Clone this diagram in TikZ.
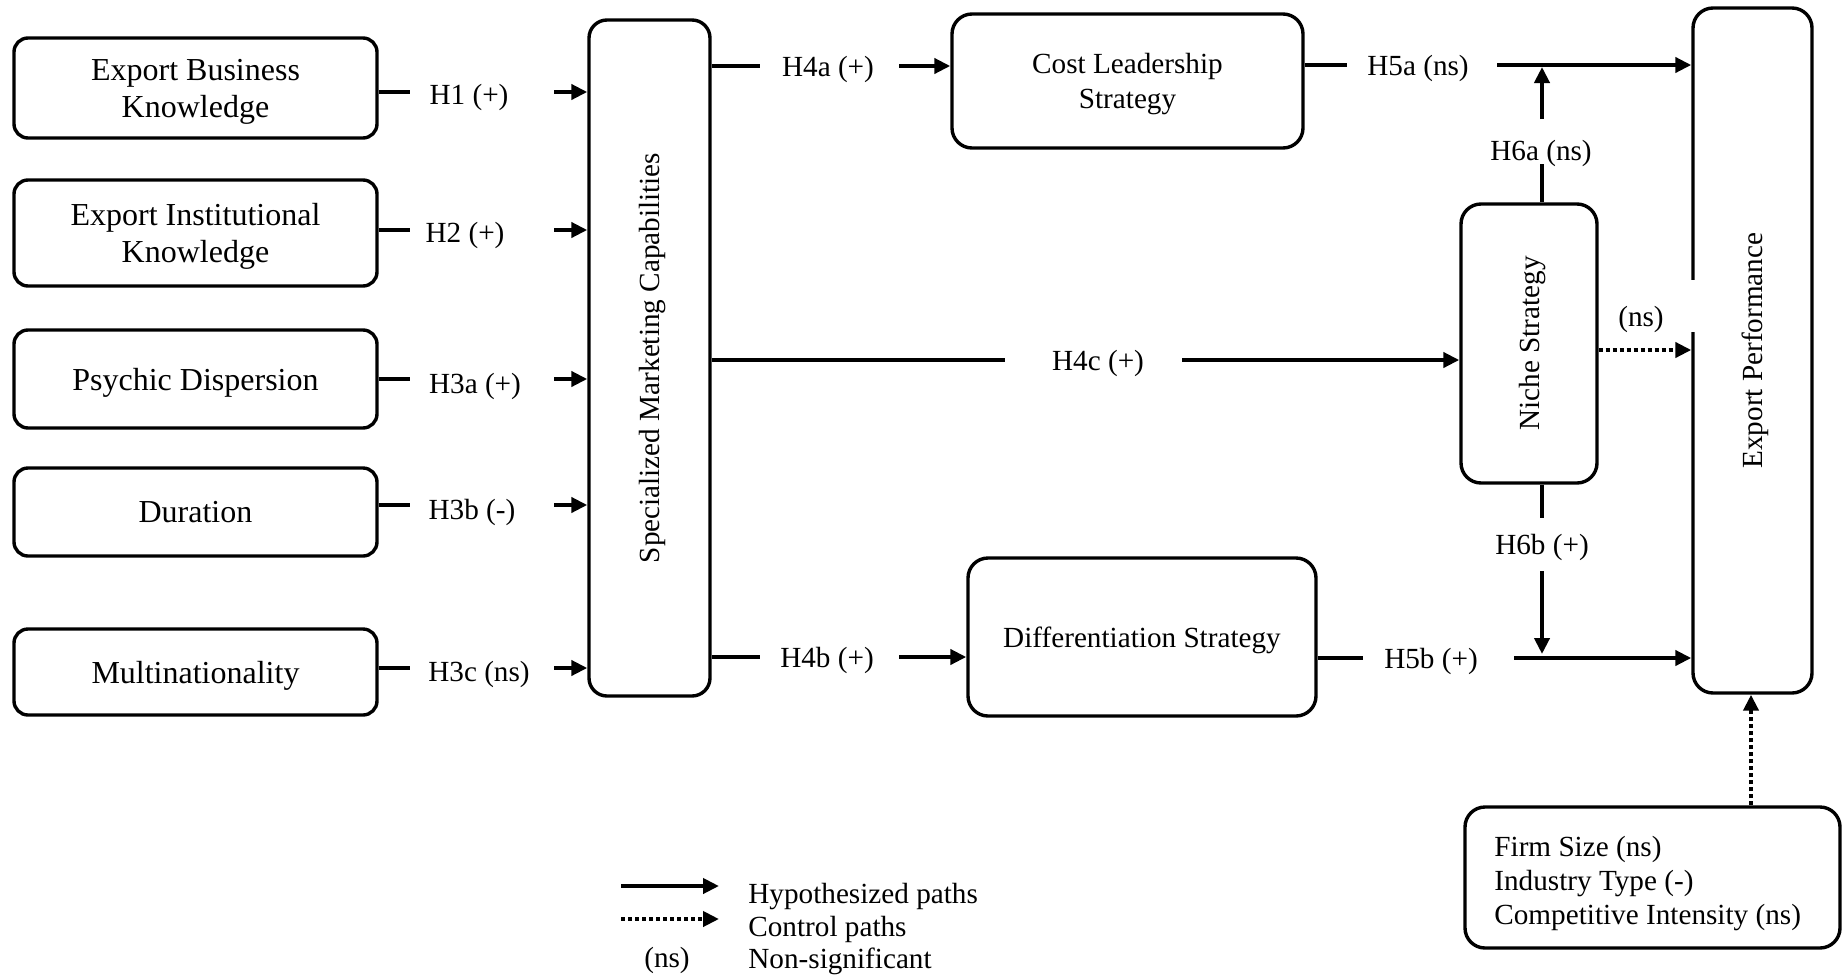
\documentclass[tikz,border=0pt]{standalone}
\usepackage{fontspec}
\setmainfont{Liberation Serif}
\usetikzlibrary{arrows.meta}
\begin{document}
\begin{tikzpicture}[x=0.5pt,y=-0.5pt,
  box/.style={draw,line width=1.7pt,rounded corners=10pt,inner sep=0pt,align=center,
    text depth=-1pt,font=\fontsize{14.6}{17.5}\selectfont},
  inbox/.style={box,rounded corners=7pt,minimum width=181.5pt,
    font=\fontsize{16}{18.5}\selectfont},
  lbl/.style={font=\fontsize{14.6}{17}\selectfont,inner sep=1pt,text depth=-0.5pt},
  vtext/.style={lbl,rotate=90},
  link/.style={line width=2pt},
  arr/.style={link,-{Triangle[length=8pt,width=7.5pt]}},
  ctrl/.style={arr,dash pattern=on 2pt off 1.5pt},
]
\useasboundingbox (0,0) rectangle (1847,975);

% antecedent boxes
\node[inbox,minimum height=50pt,text depth=-3pt] (ebk) at (195.5,88) {Export Business\\Knowledge};
\node[inbox,minimum height=53pt] (eik) at (195.5,233) {Export Institutional\\Knowledge};
\node[inbox,minimum height=49pt] (psy) at (195.5,379) {Psychic Dispersion};
\node[inbox,minimum height=44pt] (dur) at (195.5,512) {Duration};
\node[inbox,minimum height=43pt] (mul) at (195.5,672) {Multinationality};

% mediating capability
\node[box,rounded corners=9pt,minimum width=60.5pt,minimum height=338pt] (smc) at (649.5,358) {};
\node[vtext] at (smc.center) {Specialized Marketing Capabilities};

% strategies
\node[box,minimum width=175.5pt,minimum height=67pt] (cls) at (1127.5,81) {Cost Leadership\\Strategy};
\node[box,minimum width=174pt,minimum height=79pt] (dif) at (1142,637) {Differentiation Strategy};
\node[box,minimum width=68pt,minimum height=139.5pt] (nic) at (1529,343.5) {};
\node[vtext] at (nic.center) {Niche Strategy};

% outcome
\node[box,minimum width=59.5pt,minimum height=342.5pt] (ep) at (1752.5,350.5) {};
\node[vtext] at (ep.center) {Export Performance};

% controls
\node[box,minimum width=187.5pt,minimum height=70.5pt] (ctl) at (1652.5,877.5) {};
\node[lbl,anchor=west,align=left,font=\fontsize{14.6}{17}\selectfont] (ctltxt) at (1492,880)
  {Firm Size (ns)\\Industry Type (-)\\Competitive Intensity (ns)};

% H1 - H3c
\coordinate (a1) at (410,92);  \coordinate (b1) at (554,92);
\coordinate (a2) at (410,230); \coordinate (b2) at (554,230);
\coordinate (a3) at (410,379); \coordinate (b3) at (554,379);
\coordinate (a4) at (410,505); \coordinate (b4) at (554,505);
\coordinate (a5) at (410,668); \coordinate (b5) at (554,668);
\draw[link] (ebk.east |- a1) -- (a1); \node[lbl] (h1) at (469,94) {H1 (+)};   \draw[arr] (b1) -- (smc.west |- b1);
\draw[link] (eik.east |- a2) -- (a2); \node[lbl] (h2) at (465,232) {H2 (+)};  \draw[arr] (b2) -- (smc.west |- b2);
\draw[link] (psy.east |- a3) -- (a3); \node[lbl] (h3a) at (475,383) {H3a (+)}; \draw[arr] (b3) -- (smc.west |- b3);
\draw[link] (dur.east |- a4) -- (a4); \node[lbl] (h3b) at (472,509) {H3b (-)}; \draw[arr] (b4) -- (smc.west |- b4);
\draw[link] (mul.east |- a5) -- (a5); \node[lbl] (h3c) at (479,671) {H3c (ns)}; \draw[arr] (b5) -- (smc.west |- b5);

% H4a, H5a
\coordinate (c1) at (760,66);  \coordinate (d1) at (899,66);
\draw[link] (smc.east |- c1) -- (c1); \node[lbl] (h4a) at (828,66) {H4a (+)}; \draw[arr] (d1) -- (cls.west |- d1);
\coordinate (c2) at (1347,65); \coordinate (d2) at (1497,65);
\draw[link] (cls.east |- c2) -- (c2); \node[lbl] (h5a) at (1418,65) {H5a (ns)}; \draw[arr] (d2) -- (ep.west |- d2);

% H4c
\coordinate (c3) at (1005,360); \coordinate (d3) at (1182,360);
\draw[link] (smc.east |- c3) -- (c3); \node[lbl] (h4c) at (1098,360) {H4c (+)}; \draw[arr] (d3) -- (nic.west |- d3);

% H4b, H5b
\coordinate (c4) at (760,657);  \coordinate (d4) at (899,657);
\draw[link] (smc.east |- c4) -- (c4); \node[lbl] (h4b) at (827,657) {H4b (+)}; \draw[arr] (d4) -- (dif.west |- d4);
\coordinate (c5) at (1363,658); \coordinate (d5) at (1514,658);
\draw[link] (dif.east |- c5) -- (c5); \node[lbl] (h5b) at (1431,658) {H5b (+)}; \draw[arr] (d5) -- (ep.west |- d5);

% H6a, H6b (moderation by niche strategy)
\coordinate (e1) at (1542,164); \coordinate (f1) at (1542,119);
\draw[link] (nic.north -| e1) -- (e1); \node[lbl] (h6a) at (1541,150) {H6a (ns)}; \draw[arr] (f1) -- ([yshift=-1pt]f1 |- c2);
\coordinate (e2) at (1542,518); \coordinate (f2) at (1542,571);
\draw[link] (nic.south -| e2) -- (e2); \node[lbl] (h6b) at (1542,544) {H6b (+)}; \draw[arr] (f2) -- ([yshift=2pt]f2 |- c5);

% niche to performance (control-style path)
\fill[white] (1600,280) rectangle (1697,332);
\node[lbl] (nsl) at (1641,316) {(ns)};
\coordinate (g1) at (1600,350);
\draw[ctrl] (nic.east |- g1) -- (ep.west |- g1);

% controls to performance
\coordinate (g2) at (1751,0);
\draw[ctrl] (ctl.north -| g2) -- (ep.south -| g2);

% legend
\coordinate (l1) at (621,886); \coordinate (m1) at (719,886);
\coordinate (l2) at (621,919); \coordinate (m2) at (719,919);
\draw[arr] (l1) -- (m1);
\draw[ctrl] (l2) -- (m2);
\node[lbl] (lns) at (667,957) {(ns)};
\node[lbl,anchor=west] (lt1) at (746,893) {Hypothesized paths};
\node[lbl,anchor=west] (lt2) at (746,926) {Control paths};
\node[lbl,anchor=west] (lt3) at (746,958) {Non-significant};
\end{tikzpicture}
\end{document}
